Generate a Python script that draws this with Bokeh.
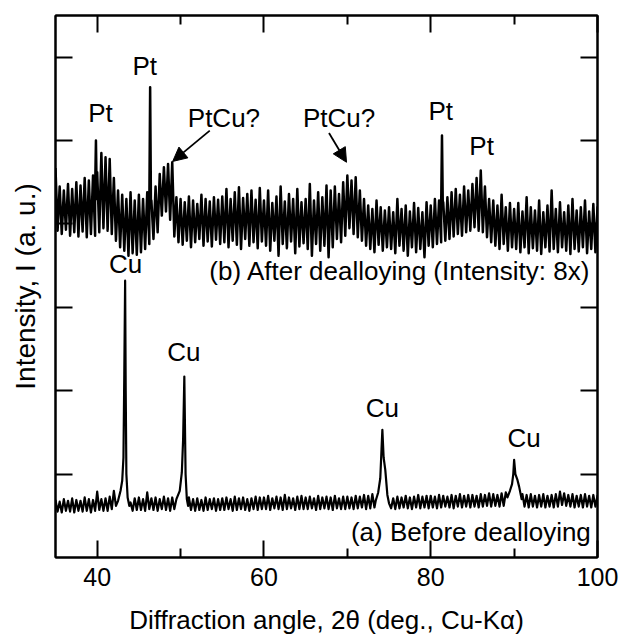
from bokeh.plotting import figure
from bokeh.models import (ColumnDataSource, FixedTicker, LinearAxis, Range1d,
                          Arrow, NormalHead, CustomLabelingPolicy)
from bokeh.core.properties import value
from bokeh.embed import file_html
from bokeh.resources import INLINE
import numpy as np

FONT = "Liberation Sans"

# ---------------- data ----------------
# sampling grid of the envelope readings, 2theta in degrees (35 .. 100, every 0.5)
grid = np.arange(35.0, 100.001, 0.5)

# (a) Before dealloying : upper / lower edge of the noisy baseline
a_hi = [0.69, 0.67, 0.70, 0.68, 0.71, 0.69, 0.68, 0.72, 0.70, 0.69,
        0.79, 0.70, 0.71, 0.73, 0.80, 0.90, 0.95, 0.72, 0.70, 0.71,
        0.72, 0.70, 0.78, 0.71, 0.72, 0.70, 0.73, 0.71, 0.72, 0.74,
        0.90, 0.90, 0.72, 0.70, 0.71, 0.69, 0.72, 0.70, 0.71, 0.70,
        0.71, 0.72, 0.70, 0.73, 0.71, 0.72, 0.70, 0.71, 0.73, 0.72,
        0.72, 0.74, 0.71, 0.73, 0.72, 0.75, 0.72, 0.71, 0.73, 0.74,
        0.72, 0.73, 0.71, 0.74, 0.72, 0.73, 0.72, 0.74, 0.71, 0.73,
        0.73, 0.72, 0.74, 0.73, 0.75, 0.74, 0.76, 0.78, 0.90, 0.95,
        0.72, 0.71, 0.73, 0.72, 0.74, 0.72, 0.73, 0.75, 0.73, 0.74,
        0.74, 0.73, 0.75, 0.74, 0.73, 0.75, 0.74, 0.76, 0.74, 0.75,
        0.75, 0.74, 0.76, 0.75, 0.77, 0.76, 0.75, 0.77, 0.78, 0.80,
        1.00, 0.90, 0.76, 0.75, 0.76, 0.74, 0.75, 0.76, 0.74, 0.75,
        0.76, 0.79, 0.77, 0.75, 0.76, 0.74, 0.75, 0.76, 0.74, 0.75,
        0.74]
a_lo = [0.55, 0.54, 0.56, 0.55, 0.54, 0.56, 0.55, 0.56, 0.54, 0.56,
        0.57, 0.56, 0.56, 0.58, 0.62, 0.70, 0.72, 0.58, 0.56, 0.57,
        0.57, 0.56, 0.58, 0.57, 0.56, 0.58, 0.57, 0.56, 0.58, 0.59,
        0.65, 0.66, 0.57, 0.56, 0.57, 0.56, 0.57, 0.58, 0.56, 0.57,
        0.57, 0.58, 0.56, 0.57, 0.58, 0.57, 0.56, 0.58, 0.57, 0.58,
        0.58, 0.57, 0.59, 0.58, 0.57, 0.58, 0.59, 0.57, 0.58, 0.58,
        0.58, 0.59, 0.57, 0.58, 0.59, 0.58, 0.57, 0.59, 0.58, 0.58,
        0.59, 0.58, 0.59, 0.60, 0.58, 0.59, 0.60, 0.62, 0.70, 0.80,
        0.59, 0.58, 0.59, 0.60, 0.59, 0.58, 0.60, 0.59, 0.60, 0.59,
        0.60, 0.59, 0.60, 0.61, 0.60, 0.59, 0.61, 0.60, 0.61, 0.60,
        0.61, 0.60, 0.61, 0.62, 0.61, 0.62, 0.61, 0.62, 0.63, 0.66,
        0.80, 0.75, 0.61, 0.60, 0.61, 0.60, 0.61, 0.60, 0.61, 0.60,
        0.61, 0.63, 0.62, 0.61, 0.60, 0.61, 0.60, 0.61, 0.60, 0.61,
        0.60]

# (a) Cu peak profiles
cu111_x = [42.5, 42.8, 43.0, 43.15, 43.25, 43.35, 43.42, 43.5, 43.65, 43.85, 44.0]
cu111_y = [0.68, 0.80, 0.92, 1.20, 2.20, 3.32, 2.00, 1.00, 0.72, 0.62, 0.66]
cu200_x = [49.5, 49.9, 50.15, 50.3, 50.45, 50.6, 50.75, 50.9]
cu200_y = [0.70, 0.80, 1.02, 1.40, 2.17, 1.00, 0.70, 0.62]
cu220_x = [73.4, 73.7, 73.95, 74.1, 74.2, 74.35, 74.55, 74.8, 75.0]
cu220_y = [0.68, 0.78, 0.95, 1.30, 1.53, 1.20, 1.05, 0.75, 0.65]
cu311_x = [89.2, 89.5, 89.75, 89.9, 90.0, 90.15, 90.4, 90.6, 90.9]
cu311_y = [0.72, 0.80, 0.88, 1.00, 1.17, 1.00, 0.93, 0.85, 0.70]

# (b) After dealloying (x8) : upper / lower edge of the noisy band
b_hi = [4.67, 4.45, 4.40, 4.48, 4.42, 4.50, 4.46, 4.55, 4.52, 4.58,
        4.62, 4.85, 4.80, 4.78, 4.55, 4.40, 4.35, 4.30, 4.38, 4.28,
        4.35, 4.30, 4.38, 4.28, 4.45, 4.60, 4.68, 4.72, 4.74, 4.32,
        4.30, 4.26, 4.33, 4.28, 4.24, 4.35, 4.30, 4.27, 4.32, 4.29,
        4.33, 4.42, 4.30, 4.38, 4.44, 4.31, 4.36, 4.40, 4.29, 4.43,
        4.28, 4.40, 4.25, 4.33, 4.45, 4.27, 4.36, 4.30, 4.42, 4.26,
        4.30, 4.48, 4.28, 4.38, 4.32, 4.46, 4.40, 4.45, 4.36, 4.50,
        4.58, 4.52, 4.56, 4.40, 4.30, 4.22, 4.18, 4.28, 4.20, 4.16,
        4.20, 4.14, 4.30, 4.18, 4.22, 4.15, 4.25, 4.19, 4.14, 4.26,
        4.22, 4.30, 4.28, 4.26, 4.32, 4.38, 4.42, 4.35, 4.45, 4.40,
        4.48, 4.55, 4.64, 4.45, 4.30, 4.28, 4.22, 4.35, 4.20, 4.25,
        4.18, 4.25, 4.15, 4.32, 4.20, 4.16, 4.28, 4.14, 4.22, 4.40,
        4.18, 4.26, 4.14, 4.22, 4.30, 4.16, 4.20, 4.28, 4.15, 4.24,
        4.20]
b_lo = [3.92, 3.88, 3.93, 3.86, 3.90, 3.85, 3.91, 3.84, 3.88, 3.86,
        3.90, 3.95, 3.92, 3.88, 3.80, 3.72, 3.68, 3.62, 3.65, 3.63,
        3.66, 3.70, 3.76, 3.82, 3.90, 4.10, 4.15, 4.05, 3.85, 3.78,
        3.75, 3.80, 3.72, 3.78, 3.82, 3.74, 3.79, 3.73, 3.81, 3.76,
        3.78, 3.72, 3.80, 3.75, 3.70, 3.82, 3.74, 3.78, 3.71, 3.79,
        3.74, 3.68, 3.80, 3.62, 3.76, 3.71, 3.79, 3.65, 3.73, 3.77,
        3.70, 3.62, 3.76, 3.68, 3.74, 3.60, 3.72, 3.82, 3.78, 3.86,
        3.95, 3.88, 3.84, 3.80, 3.74, 3.70, 3.66, 3.75, 3.68, 3.72,
        3.70, 3.65, 3.74, 3.68, 3.62, 3.72, 3.66, 3.70, 3.60, 3.74,
        3.72, 3.76, 3.78, 3.80, 3.82, 3.85, 3.88, 3.86, 3.90, 3.92,
        3.96, 3.92, 3.90, 3.84, 3.78, 3.74, 3.70, 3.76, 3.68, 3.72,
        3.70, 3.66, 3.72, 3.65, 3.71, 3.68, 3.64, 3.72, 3.67, 3.70,
        3.66, 3.72, 3.68, 3.64, 3.70, 3.67, 3.72, 3.65, 3.70, 3.66,
        3.65]

# (b) sharp Pt reflections
pt_x = [[39.75, 39.85, 39.95], [46.25, 46.35, 46.45], [81.25, 81.35, 81.45]]
pt_y = [[4.40, 5.00, 4.30], [4.20, 5.64, 4.20], [4.20, 5.06, 4.20]]

# annotation texts
lab_text = ["Pt", "Pt", "PtCu?", "PtCu?", "Pt", "Pt", "Cu", "Cu", "Cu", "Cu"]
lab_x = [40.4, 45.7, 55.2, 69.0, 81.2, 86.1, 43.4, 50.4, 74.2, 91.2]
lab_y = [5.33, 5.90, 5.27, 5.27, 5.36, 4.93, 3.52, 2.46, 1.79, 1.43]
arrow_start = [(53.5, 5.12), (67.8, 5.09)]
arrow_end = [(49.05, 4.75), (69.9, 4.74)]
cap_text = ["(b) After dealloying (Intensity: 8x)", "(a) Before dealloying"]
cap_x = [99.2, 99.2]
cap_y = [3.44, 0.30]

x_major = [40, 60, 80, 100]
x_minor = [50, 70, 90]
y_major = [1, 2, 3, 4, 5, 6]


# ---------------- build traces ----------------
def zigzag(xs, hi, lo, half):
    px, py = [], []
    for x, h, l in zip(xs, hi, lo):
        px += [float(x), float(x) + half]
        py += [h, l]
    return px, py


ax, ay = zigzag(grid, a_hi, a_lo, 0.25)
windows = [(min(cu111_x), max(cu111_x)), (min(cu200_x), max(cu200_x)),
           (min(cu220_x), max(cu220_x)), (min(cu311_x), max(cu311_x))]
pts = [(x, y) for x, y in zip(ax, ay)
       if not any(lo <= x <= hi for lo, hi in windows)]
for xs, ys in [(cu111_x, cu111_y), (cu200_x, cu200_y),
               (cu220_x, cu220_y), (cu311_x, cu311_y)]:
    pts += list(zip(xs, ys))
pts.sort(key=lambda t: t[0])
trace_a = ColumnDataSource(dict(x=[p[0] for p in pts], y=[p[1] for p in pts]))

bx, by = zigzag(grid, b_hi, b_lo, 0.25)
ptsb = list(zip(bx, by))
for xs, ys in zip(pt_x, pt_y):
    ptsb += list(zip(xs, ys))
ptsb.sort(key=lambda t: t[0])
trace_b = ColumnDataSource(dict(x=[p[0] for p in ptsb], y=[p[1] for p in ptsb]))

# ---------------- figure ----------------
p = figure(width=620, height=640, output_backend="svg", toolbar_location=None,
           x_range=Range1d(35, 100), y_range=Range1d(0, 6.5),
           min_border_left=55, min_border_right=23, min_border_top=15,
           min_border_bottom=83)
p.grid.visible = False
p.outline_line_color = "black"
p.outline_line_width = 2
p.background_fill_color = "white"
p.border_fill_color = "white"

p.line("x", "y", source=trace_a, line_color="black", line_width=2.2,
       line_join="round")
p.line("x", "y", source=trace_b, line_color="black", line_width=2.5,
       line_join="round")

NO_LABELS = CustomLabelingPolicy(code="return new Set()")


def style_axis(axis, ticks, minor, labels):
    axis.ticker = FixedTicker(ticks=ticks, minor_ticks=minor)
    axis.axis_line_color = "black"
    axis.axis_line_width = 2
    axis.major_tick_in = 17
    axis.major_tick_out = 0
    axis.minor_tick_in = 9
    axis.minor_tick_out = 0
    axis.major_tick_line_width = 2
    axis.minor_tick_line_width = 2
    axis.major_tick_line_color = "black"
    axis.minor_tick_line_color = "black"
    if labels:
        axis.major_label_text_font = FONT
        axis.major_label_text_font_size = "25px"
        axis.major_label_text_color = "black"
    else:
        axis.major_label_policy = NO_LABELS
        axis.major_label_text_font_size = "2px"
        axis.major_label_standoff = 0


xa = p.xaxis[0]
style_axis(xa, x_major, x_minor, True)
xa.major_label_standoff = 10
xa.axis_label = "Diffraction angle, 2θ (deg., Cu-Kα)"
xa.axis_label_text_font = FONT
xa.axis_label_text_font_size = "26px"
xa.axis_label_text_font_style = "normal"
xa.axis_label_text_color = "black"
xa.axis_label_standoff = 16

ya = p.yaxis[0]
style_axis(ya, y_major, [], False)
ya.axis_label = "Intensity, I (a. u.)"
ya.axis_label_text_font = FONT
ya.axis_label_text_font_size = "28px"
ya.axis_label_text_font_style = "normal"
ya.axis_label_text_color = "black"
ya.axis_label_standoff = 10

top = LinearAxis()
style_axis(top, x_major, x_minor, False)
p.add_layout(top, "above")
right = LinearAxis()
style_axis(right, y_major, [], False)
p.add_layout(right, "right")

# annotations
lab_src = ColumnDataSource(dict(x=lab_x, y=lab_y, t=lab_text))
p.text("x", "y", text="t", source=lab_src, text_align="center",
       text_baseline="middle", text_font=value(FONT), text_font_size="26px",
       text_color="black")
cap_src = ColumnDataSource(dict(x=cap_x, y=cap_y, t=cap_text))
p.text("x", "y", text="t", source=cap_src, text_align="right",
       text_baseline="middle", text_font=value(FONT), text_font_size="26px",
       text_color="black")
for (x0, y0), (x1, y1) in zip(arrow_start, arrow_end):
    p.add_layout(Arrow(end=NormalHead(size=14, fill_color="black",
                                      line_color="black"),
                       x_start=x0, y_start=y0, x_end=x1, y_end=y1,
                       line_color="black", line_width=1.8))

open("out.html", "w").write(file_html(p, INLINE))
